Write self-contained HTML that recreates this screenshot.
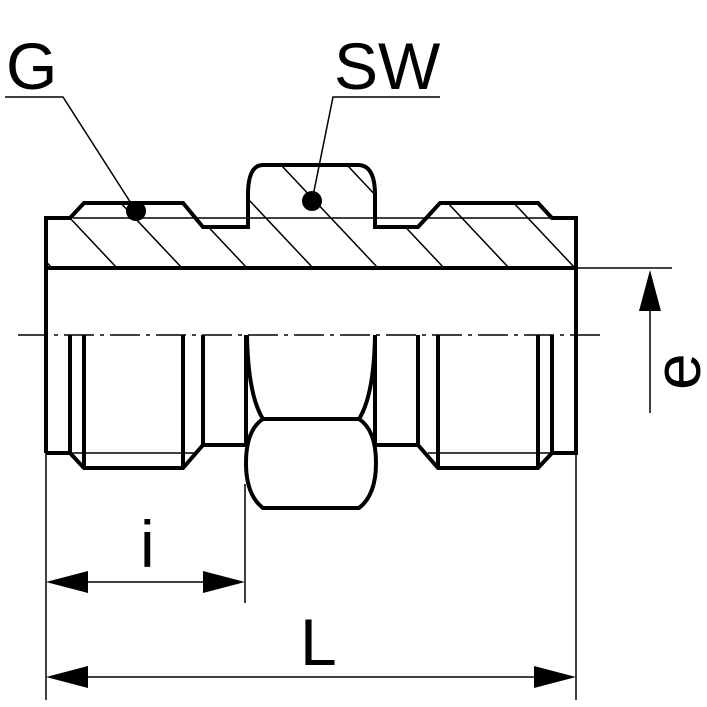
<!DOCTYPE html>
<html><head><meta charset="utf-8"><style>
html,body{margin:0;padding:0;background:#fff;width:707px;height:707px;overflow:hidden}
svg{display:block}
text{font-family:"Liberation Sans",sans-serif;fill:#000}
</style></head><body>
<svg width="707" height="707" viewBox="0 0 707 707" xmlns="http://www.w3.org/2000/svg">
<defs>
<clipPath id="sec"><path d="M46,218 L70,218 L84,203 L183,203 L203,227 L248,227 L248,195 Q248,165 263,165 L358,165 Q375,165 375,195 L375,227 L418,227 L440,203 L538,203 L552,218 L576,218 L576,268 L46,268 Z"/></clipPath>
</defs>
<g clip-path="url(#sec)" stroke="#000" stroke-width="1.5">
<line x1="-45" y1="165" x2="52" y2="268"/>
<line x1="20" y1="165" x2="117" y2="268"/>
<line x1="85" y1="165" x2="182" y2="268"/>
<line x1="150" y1="165" x2="247" y2="268"/>
<line x1="216" y1="165" x2="313" y2="268"/>
<line x1="281" y1="165" x2="378" y2="268"/>
<line x1="347" y1="165" x2="444" y2="268"/>
<line x1="412" y1="165" x2="509" y2="268"/>
<line x1="478" y1="165" x2="575" y2="268"/>
</g>
<g fill="none" stroke="#000" stroke-width="4" stroke-linejoin="miter">
<path d="M46,453 L46,218 L70,218 L84,203 L183,203 L203,227 L248,227 L248,195 Q248,165 263,165 L358,165 Q375,165 375,195 L375,227 L418,227 L440,203 L538,203 L552,218 L576,218 L576,453 L552,453 L538,468 L438,468 L418,445 L375,445"/>
<path d="M46,453 L70,453 L84,468 L183,468 L203,445 L246,445"/>
<line x1="46" y1="268" x2="576" y2="268"/>
<line x1="70" y1="335" x2="70" y2="453"/>
<line x1="84" y1="335" x2="84" y2="468"/>
<line x1="183" y1="335" x2="183" y2="468"/>
<line x1="203" y1="335" x2="203" y2="445"/>
<line x1="246" y1="335" x2="246" y2="445"/>
<line x1="375" y1="335" x2="375" y2="445"/>
<line x1="418" y1="335" x2="418" y2="445"/>
<line x1="438" y1="335" x2="438" y2="468"/>
<line x1="538" y1="335" x2="538" y2="468"/>
<line x1="552" y1="335" x2="552" y2="453"/>
<path d="M247,335 Q248,395 263,419 L359,419 Q374,395 375,335"/>
<path d="M263,419 Q246,430 246,463 Q246,495 263,508 L359,508 Q376,495 376,463 Q376,430 359,419"/>
</g>
<g stroke="#000" stroke-width="1.5" fill="none">
<line x1="73" y1="218" x2="552" y2="218"/>
<line x1="70" y1="453" x2="195" y2="453"/>
<line x1="428" y1="453" x2="552" y2="453"/>
<line x1="576" y1="268" x2="672" y2="268"/>
<line x1="18" y1="335" x2="600" y2="335" stroke-dasharray="30,6,4,6"/>
<line x1="46" y1="453" x2="46" y2="700"/>
<line x1="576" y1="453" x2="576" y2="700"/>
<line x1="245" y1="484" x2="245" y2="603"/>
<line x1="60" y1="582" x2="230" y2="582"/>
<line x1="60" y1="677" x2="560" y2="677"/>
<line x1="650" y1="300" x2="650" y2="413"/>
<path d="M5,97 L63,97 L136,211"/>
<path d="M440,97 L333,97 L312,201"/>
</g>
<g fill="#000">
<path d="M46,582 L88,571 L88,593 Z"/>
<path d="M245,582 L203,571 L203,593 Z"/>
<path d="M46,677 L88,666 L88,688 Z"/>
<path d="M576,677 L534,666 L534,688 Z"/>
<path d="M650,270 L639,311 L661,311 Z"/>
<circle cx="136" cy="211" r="10"/>
<circle cx="312" cy="201" r="10"/>
</g>
<text x="6" y="89" font-size="66">G</text>
<text x="334" y="89" font-size="66">SW</text>
<text x="140" y="567" font-size="66">i</text>
<text x="300" y="665" font-size="66">L</text>
<text transform="translate(700,390) rotate(-90)" font-size="66">e</text>
</svg>
</body></html>
